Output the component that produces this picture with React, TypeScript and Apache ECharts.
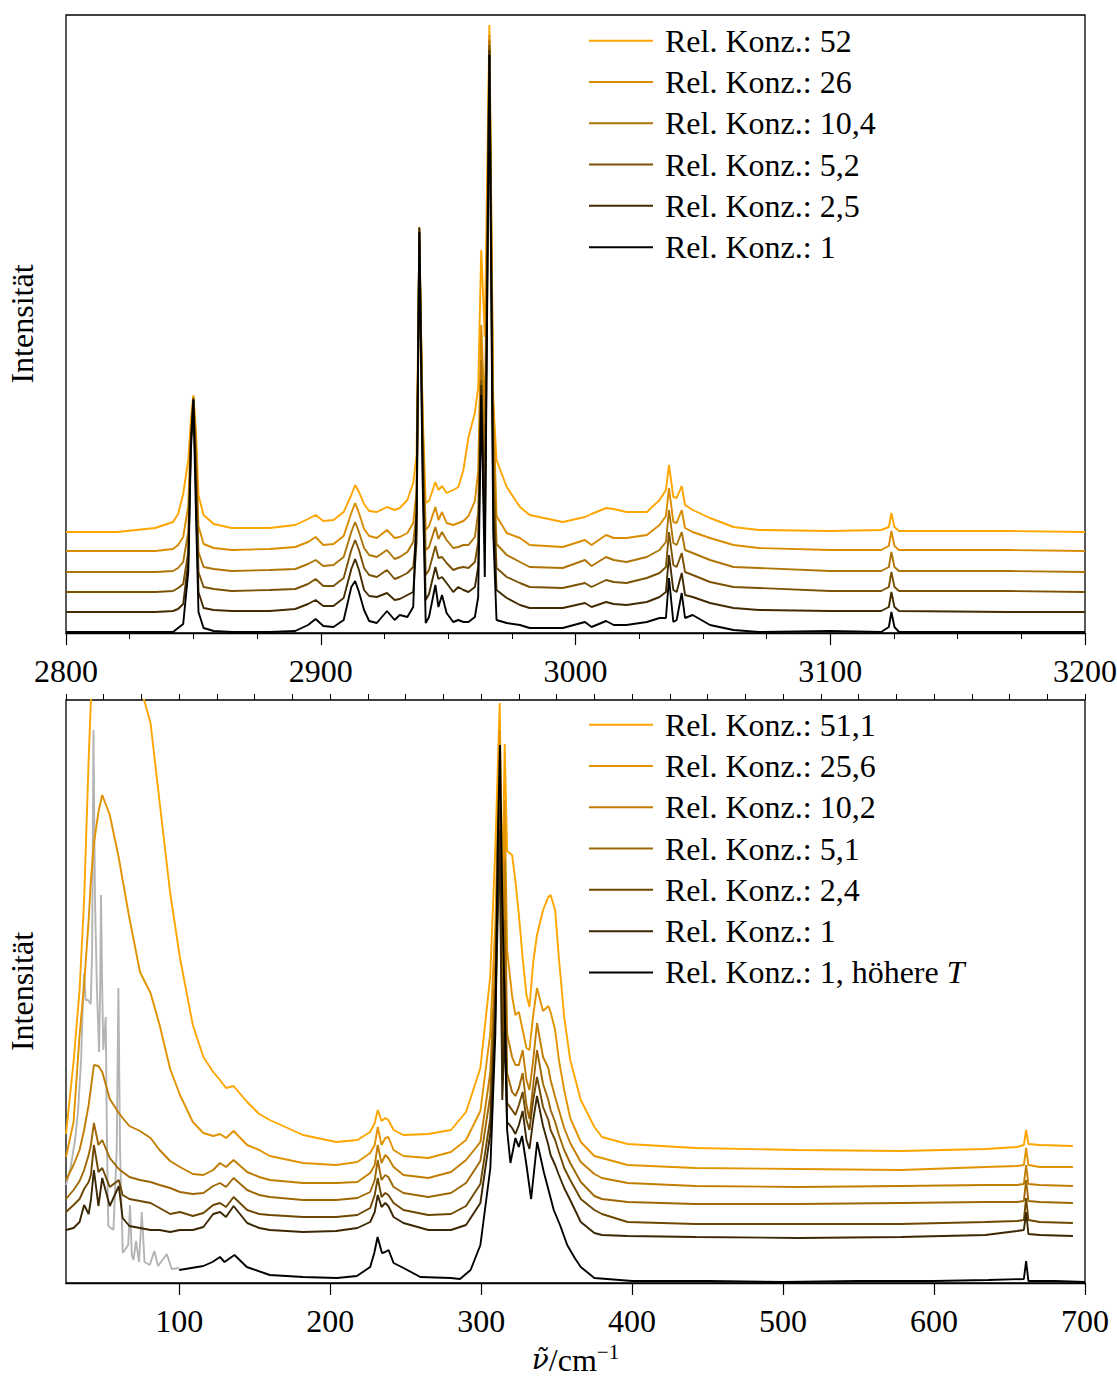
import React, { useEffect, useRef } from "react";
import * as echarts from "echarts";

const FONT = "'Liberation Serif', 'DejaVu Serif', serif";

// ---------- Top panel: C–H stretching region ----------
const topWavenumbers = [2800, 2820, 2835, 2842, 2844, 2846, 2848, 2849, 2850, 2851, 2852, 2854, 2858, 2865, 2880, 2890, 2895, 2898, 2901, 2905, 2909, 2912, 2913.5, 2915, 2917, 2919, 2922, 2926, 2929, 2931, 2934, 2936.3, 2937.6, 2938.7, 2940, 2941.2, 2942.5, 2945, 2946.2, 2947.6, 2949.4, 2952, 2954, 2956, 2958, 2960.5, 2961.8, 2963, 2964.4, 2966.2, 2967.7, 2969, 2973, 2978.2, 2982, 2995, 3003.7, 3006.3, 3012, 3015, 3020, 3028, 3033, 3035.5, 3036.7, 3038.4, 3039.7, 3041.7, 3043, 3046, 3052.8, 3062, 3072, 3100, 3120, 3123, 3124, 3125.2, 3127, 3170, 3200];
const top52 = [0, 0, 4, 10, 18, 38, 72, 112, 137, 102, 37, 17, 8, 4, 4, 7, 13, 17, 11, 12, 20, 37, 47, 40, 28, 21, 20, 25, 22, 24, 32, 49, 77, 283, 120, 29, 31, 50, 42, 46, 39, 42, 45, 62, 95, 119, 145, 282, 195, 507, 132, 72, 45, 25, 17, 10, 15, 18, 24, 23, 20, 20, 32, 42, 67, 35, 34, 46, 27, 22, 14, 5, 2, 1, 2, 5, 19, 5, 1, 1, 0];
const top26 = [0, 0, 0, 2, 6, 14, 45, 120, 154, 110, 25, 7, 3, 1, 2, 4, 9, 14, 6, 7, 15, 38, 48, 38, 22, 15, 13, 21, 13, 14, 18, 28, 60, 311, 130, 21, 25, 44, 31, 39, 28, 26, 28, 30, 35, 50, 80, 226, 131, 516, 150, 35, 18, 13, 6, 4, 11, 6, 16, 13, 13, 16, 26, 35, 63, 29, 28, 41, 23, 19, 13, 6, 3, 1, 1, 5, 20, 5, 1, 1, 0];
const top10_4 = [0, 0, 0, 1, 4, 10, 40, 130, 174, 120, 20, 5, 3, 1, 2, 3, 8, 12, 6, 7, 15, 40, 50, 40, 24, 17, 15, 22, 13, 15, 20, 30, 60, 340, 140, 22, 25, 45, 33, 40, 32, 24, 25, 27, 27, 35, 60, 212, 102, 532, 130, 28, 17, 10, 5, 4, 12, 6, 15, 12, 10, 15, 22, 30, 62, 29, 27, 40, 22, 19, 12, 5, 4, 1, 1, 5, 20, 5, 1, 1, 0];
const top5_2 = [0, 0, 0, 1, 4, 8, 40, 150, 194, 130, 20, 5, 3, 1, 2, 3, 8, 13, 6, 6, 14, 42, 52, 42, 24, 17, 15, 22, 13, 15, 19, 25, 60, 365, 150, 17, 22, 46, 34, 35, 29, 22, 24, 25, 24, 30, 50, 212, 82, 547, 120, 24, 15, 9, 5, 4, 9, 5, 12, 10, 9, 14, 19, 25, 60, 27, 25, 39, 20, 17, 10, 5, 4, 1, 1, 5, 20, 5, 1, 1, 0];
const top2_5 = [0, 0, 0, 1, 3, 8, 50, 170, 213, 125, 20, 4, 2, 1, 1, 3, 8, 12, 6, 6, 14, 43, 53, 42, 22, 16, 15, 19, 12, 13, 17, 20, 70, 384, 150, 12, 18, 45, 33, 35, 29, 20, 25, 22, 20, 25, 45, 227, 67, 562, 110, 22, 14, 7, 4, 4, 9, 5, 10, 8, 7, 10, 15, 20, 57, 22, 20, 39, 17, 15, 9, 4, 2, 1, 1, 5, 20, 5, 1, 0, 0];
const top1 = [0, 0, 0, 0, 4, 8, 60, 180, 232, 120, 20, 4, 1, 0, 0, 1, 7, 13, 6, 5, 12, 45, 51, 40, 22, 11, 9, 21, 12, 17, 15, 25, 120, 400, 150, 9, 15, 47, 25, 37, 19, 10, 12, 10, 10, 15, 35, 237, 55, 577, 100, 12, 9, 7, 4, 4, 10, 5, 11, 7, 7, 10, 14, 14, 54, 10, 12, 39, 14, 17, 7, 2, 0, 1, 0, 5, 20, 5, 0, 0, 0];
const topOffsets = [101, 82, 61, 41, 21, 1];
const topLabels = ["Rel. Konz.: 52", "Rel. Konz.: 26", "Rel. Konz.: 10,4", "Rel. Konz.: 5,2", "Rel. Konz.: 2,5", "Rel. Konz.: 1"];
const topColors = ["#FFA500", "#D98C00", "#AE7406", "#7C5204", "#432C02", "#000000"];

// ---------- Bottom panel: low wavenumber region ----------
const botWavenumbers = [25, 30, 34, 37, 40, 41.5, 43.5, 46.5, 49, 54, 60, 62.5, 67, 74, 81, 87, 94, 100.5, 109, 116, 122.5, 127, 131, 136, 145, 153, 160, 182, 204, 218, 226.5, 229.5, 231.5, 234, 236.5, 238.5, 242, 248.5, 265, 280, 290, 299.5, 306, 309.5, 312.3, 314, 315.6, 317.2, 320.5, 322.7, 325, 327.5, 330, 332, 334.5, 337, 341, 344.5, 346, 349, 351.5, 355, 359, 366, 375, 380, 397, 442, 510, 578, 634, 655, 659.5, 661, 662.5, 670, 692];
const bot51_1 = [149, 221, 293, 383, 523, 583, 643, 723, 743, 723, 683, 663, 643, 598, 560, 481, 390, 325, 258, 226, 211, 203, 195, 197, 181, 169, 163, 148, 141, 143, 151, 160, 173, 162, 165, 163, 153, 148, 149, 153, 171, 215, 306, 440, 580, 383, 539, 432, 428, 402, 368, 325, 288, 276, 321, 348, 373, 386, 388, 373, 325, 266, 223, 183, 156, 146, 139, 135, 133, 132, 134, 136, 138, 153, 139, 138, 137];
const bot25_6 = [126, 161, 248, 298, 363, 403, 440, 471, 488, 468, 425, 403, 365, 311, 290, 258, 214, 188, 161, 150, 147, 149, 145, 152, 138, 133, 127, 120, 118, 121, 130, 138, 156, 138, 145, 146, 133, 127, 125, 131, 143, 172, 249, 363, 553, 333, 483, 333, 287, 268, 271, 253, 235, 233, 268, 295, 272, 277, 271, 253, 223, 193, 165, 141, 127, 125, 118, 115, 114, 113, 116, 117, 118, 135, 118, 116, 116];
const bot10_2 = [103, 118, 133, 153, 178, 195, 218, 217, 211, 184, 170, 165, 157, 152, 145, 133, 122, 116, 109, 108, 113, 120, 116, 123, 111, 106, 103, 100, 100, 101, 110, 118, 138, 120, 128, 125, 116, 108, 105, 111, 123, 141, 210, 325, 523, 283, 423, 249, 226, 218, 218, 233, 203, 193, 223, 260, 226, 215, 203, 186, 173, 155, 140, 121, 109, 105, 100, 97, 96, 97, 98, 98, 99, 118, 99, 98, 97];
const bot5_1 = [84, 93, 102, 113, 128, 138, 160, 138, 143, 125, 114, 111, 106, 103, 101, 98, 95, 91, 89, 90, 97, 100, 96, 105, 93, 88, 86, 83, 83, 85, 91, 103, 123, 103, 108, 106, 96, 90, 86, 90, 100, 122, 187, 306, 493, 243, 363, 210, 191, 187, 195, 210, 178, 164, 198, 233, 199, 183, 173, 161, 148, 133, 120, 101, 87, 84, 81, 79, 79, 80, 81, 81, 82, 103, 82, 81, 80];
const bot2_4 = [71, 78, 84, 94, 101, 108, 138, 111, 115, 96, 103, 88, 84, 82, 80, 75, 69, 71, 67, 70, 78, 80, 76, 86, 73, 69, 68, 66, 66, 68, 75, 88, 105, 86, 90, 88, 80, 73, 68, 69, 77, 99, 164, 287, 473, 203, 303, 180, 173, 168, 178, 191, 163, 153, 183, 206, 176, 163, 153, 143, 131, 115, 103, 84, 73, 69, 61, 59, 59, 59, 61, 62, 63, 85, 63, 61, 60];
const bot1 = [53, 55, 61, 78, 69, 83, 113, 77, 105, 77, 97, 65, 57, 55, 53, 53, 51, 53, 53, 56, 69, 71, 66, 77, 60, 55, 53, 51, 52, 55, 61, 71, 88, 76, 80, 77, 66, 60, 53, 53, 58, 80, 149, 268, 453, 183, 253, 161, 155, 149, 158, 172, 143, 134, 163, 187, 157, 138, 128, 118, 108, 95, 83, 61, 50, 48, 47, 46, 45, 46, 48, 52, 53, 71, 49, 48, 47];
const hotWavenumbers = [100, 116, 122, 127, 130, 136.6, 144.8, 160, 182, 204.5, 217.7, 226.5, 229.2, 231.4, 234.3, 236.5, 238.7, 242, 248.6, 259.7, 280, 286, 293, 299.5, 306.1, 309.4, 311, 312.5, 314, 315.5, 317.2, 319.4, 322.7, 324.9, 327.1, 330, 333.1, 337.1, 341.5, 348.1, 352.5, 357, 362, 366, 375, 400, 450, 500, 550, 600, 636, 659.5, 661, 662.5, 680, 700];
const hot1 = [13, 17, 21, 26, 21, 28, 16, 8, 6, 5, 7, 16, 30, 46, 30, 31, 33, 20, 15, 6, 5, 4, 13, 38, 115, 249, 440, 538, 383, 283, 153, 120, 145, 136, 147, 118, 84, 141, 111, 73, 57, 38, 25, 16, 5, 2, 2, 1, 2, 2, 3, 4, 22, 2, 2, 1];
const hotLowWavenumbers = [25, 28, 31, 33, 35, 36, 37, 38, 39.5, 41.4, 42.3, 43.2, 44.2, 45.5, 46.9, 47.6, 48.2, 48.9, 49.7, 51.3, 52.2, 53, 56.4, 58.6, 59.7, 60.8, 62.6, 66.2, 67.4, 68.6, 69.7, 71.4, 73.4, 75.2, 77, 80.5, 83.5, 86, 91.8, 95, 100];
const hotLow = [98, 115, 143, 172, 223, 273, 310, 283, 283, 279, 333, 553, 383, 293, 231, 293, 388, 303, 233, 266, 133, 57, 53, 133, 295, 133, 30, 38, 78, 28, 23, 42, 21, 71, 21, 18, 32, 17, 29, 14, 15];
const botLabels = ["Rel. Konz.: 51,1", "Rel. Konz.: 25,6", "Rel. Konz.: 10,2", "Rel. Konz.: 5,1", "Rel. Konz.: 2,4", "Rel. Konz.: 1", "Rel. Konz.: 1, höhere T"];
const botColors = ["#FFA500", "#E29300", "#C07D02", "#9E6704", "#6E4803", "#3B2703", "#000000"];
const grayColor = "#B4B4B4";
const botMajorTicks = [100, 200, 300, 400, 500, 600, 700];

export default function App() {
  const ref = useRef<HTMLDivElement>(null);
  useEffect(() => {
    const chart = echarts.init(ref.current!, null, { renderer: "svg" });
    const topSeriesY = [top52, top26, top10_4, top5_2, top2_5, top1];
    const botSeriesY = [bot51_1, bot25_6, bot10_2, bot5_1, bot2_4, bot1];
    const topKeys = topLabels.map((_, i) => "top" + i);
    const botKeys = botLabels.map((_, i) => "bot" + i);
    const labelMap: Record<string, string> = {};
    topKeys.forEach((k, i) => (labelMap[k] = topLabels[i]));
    botKeys.forEach((k, i) => (labelMap[k] = botLabels[i]));

    const lineBase = {
      type: "line" as const,
      showSymbol: false,
      symbol: "none",
      clip: true,
      silent: true,
    };
    const series: any[] = [];
    topSeriesY.forEach((ys, i) => {
      series.push({
        ...lineBase,
        name: topKeys[i],
        xAxisIndex: 0,
        yAxisIndex: 0,
        color: topColors[i],
        lineStyle: { color: topColors[i], width: 1.9 },
        data: topWavenumbers.map((x, j) => [x, ys[j] + topOffsets[i]]),
      });
    });
    series.push({
      ...lineBase,
      name: "hotLow",
      xAxisIndex: 1,
      yAxisIndex: 1,
      color: grayColor,
      lineStyle: { color: grayColor, width: 1.9 },
      data: hotLowWavenumbers.map((x, j) => [x, hotLow[j]]),
    });
    botSeriesY.forEach((ys, i) => {
      series.push({
        ...lineBase,
        name: botKeys[i],
        xAxisIndex: 1,
        yAxisIndex: 1,
        color: botColors[i],
        lineStyle: { color: botColors[i], width: 1.9 },
        data: botWavenumbers.map((x, j) => [x, ys[j]]),
      });
    });
    series.push({
      ...lineBase,
      name: botKeys[6],
      xAxisIndex: 1,
      yAxisIndex: 1,
      color: botColors[6],
      lineStyle: { color: botColors[6], width: 1.9 },
      data: hotWavenumbers.map((x, j) => [x, hot1[j]]),
    });

    const labelStyle = { fontFamily: FONT, fontSize: 32, color: "#000" };
    const gridBox = {
      show: true,
      borderColor: "#000",
      borderWidth: 1.3,
      backgroundColor: "transparent",
      containLabel: false,
      outerBoundsMode: "none",
    };
    const legendBase = {
      orient: "vertical" as const,
      left: 589,
      padding: 0,
      itemWidth: 64,
      itemHeight: 2,
      icon: "rect",
      itemGap: 0,
      selectedMode: false,
      textStyle: {
        ...labelStyle,
        lineHeight: 41.3,
        padding: [0, 0, 0, 7],
        rich: {
          r: { ...labelStyle, lineHeight: 41.3 },
          it: { ...labelStyle, fontStyle: "italic", lineHeight: 41.3 },
        },
      },
    };
    const plainNumber = (v: number) => String(v);

    chart.setOption({
      animation: false,
      textStyle: { fontFamily: FONT },
      grid: [
        { left: 66, top: 15, width: 1019, height: 618, ...gridBox },
        { left: 66, top: 700, width: 1019, height: 583, ...gridBox },
      ],
      xAxis: [
        {
          gridIndex: 0,
          type: "value",
          min: 2800,
          max: 3200,
          interval: 100,
          axisLine: { show: true, lineStyle: { color: "#000", width: 1.3 } },
          axisTick: { show: true, inside: false, length: 12, lineStyle: { color: "#000", width: 1.2 } },
          minorTick: { show: true, splitNumber: 4, length: 6, lineStyle: { color: "#000", width: 1 } },
          axisLabel: { ...labelStyle, margin: 22, formatter: plainNumber },
          splitLine: { show: false },
          minorSplitLine: { show: false },
        },
        {
          gridIndex: 1,
          type: "value",
          min: 25,
          max: 700,
          axisLine: { show: true, lineStyle: { color: "#000", width: 1.3 } },
          axisTick: { show: true, inside: false, length: 12, customValues: botMajorTicks, lineStyle: { color: "#000", width: 1.2 } },
          axisLabel: { ...labelStyle, margin: 22, customValues: botMajorTicks, formatter: plainNumber },
          splitLine: { show: false },
          name: "{i|ν̃}{n|/cm}{s|−1}",
          nameLocation: "middle",
          nameGap: 58,
          nameTextStyle: {
            ...labelStyle,
            rich: {
              i: { ...labelStyle, fontFamily: "'DejaVu Serif', serif", fontSize: 28, fontStyle: "italic" },
              n: { ...labelStyle },
              s: { ...labelStyle, fontSize: 21, padding: [0, 0, 16, 0] },
            },
          },
        },
        {
          gridIndex: 1,
          type: "value",
          min: 25,
          max: 700,
          interval: 25,
          axisLine: { show: false },
          axisTick: { show: true, inside: false, length: 6, lineStyle: { color: "#000", width: 1 } },
          axisLabel: { show: false },
          splitLine: { show: false },
        },
      ],
      yAxis: [
        {
          gridIndex: 0,
          type: "value",
          min: 0,
          max: 618,
          axisLine: { show: false },
          axisTick: { show: false },
          axisLabel: { show: false },
          splitLine: { show: false },
          name: "Intensität",
          nameLocation: "middle",
          nameGap: 28,
          nameRotate: 90,
          nameTextStyle: labelStyle,
        },
        {
          gridIndex: 1,
          type: "value",
          min: 0,
          max: 583,
          axisLine: { show: false },
          axisTick: { show: false },
          axisLabel: { show: false },
          splitLine: { show: false },
          name: "Intensität",
          nameLocation: "middle",
          nameGap: 28,
          nameRotate: 90,
          nameTextStyle: labelStyle,
        },
      ],
      legend: [
        {
          ...legendBase,
          top: 20,
          data: topKeys,
          formatter: (n: string) => "{r|" + labelMap[n] + "}",
        },
        {
          ...legendBase,
          top: 704,
          data: botKeys,
          formatter: (n: string) =>
            n === botKeys[6] ? "{r|Rel. Konz.: 1, höhere }{it|T}" : "{r|" + labelMap[n] + "}",
        },
      ],
      series,
    });
    return () => chart.dispose();
  }, []);
  return (
    <div
      ref={ref}
      style={{ position: "absolute", left: 0, top: 0, width: 1117, height: 1380 }}
    />
  );
}
